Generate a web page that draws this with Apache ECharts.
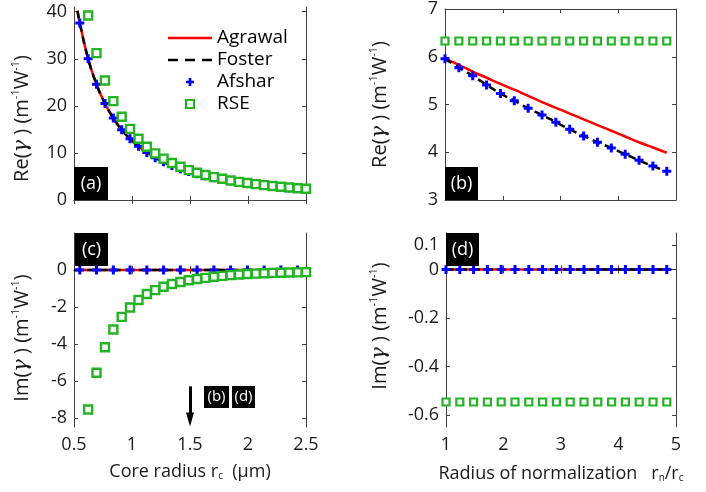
<!DOCTYPE html>
<html>
<head>
<meta charset="utf-8">
<script src="https://cdn.jsdelivr.net/npm/echarts@6/dist/echarts.min.js"></script>
<style>
html,body{margin:0;padding:0;background:#fff}
#main{width:706px;height:492px}
</style>
</head>
<body>
<div id="main"></div>
<script>
// core radius rc (um), panels (a) and (c)
var rc = [0.55, 0.622, 0.694, 0.767, 0.839, 0.911, 0.983, 1.056, 1.128, 1.2, 1.272, 1.344, 1.417, 1.489,
  1.561, 1.633, 1.706, 1.778, 1.85, 1.922, 1.994, 2.067, 2.139, 2.211, 2.283, 2.356, 2.428, 2.5];
var rcLine = [0.53, 0.55, 0.622, 0.694, 0.767, 0.839, 0.911, 0.983, 1.056, 1.128, 1.2, 1.272, 1.344, 1.417, 1.489,
  1.561, 1.633, 1.706, 1.778, 1.85, 1.922, 1.994, 2.067, 2.139, 2.211, 2.283, 2.356, 2.428, 2.5];
var rcRse = [0.622, 0.694, 0.767, 0.839, 0.911, 0.983, 1.056, 1.128, 1.2, 1.272, 1.344, 1.417, 1.489,
  1.561, 1.633, 1.706, 1.778, 1.85, 1.922, 1.994, 2.067, 2.139, 2.211, 2.283, 2.356, 2.428, 2.5];
var rcSparse = [0.55, 0.694, 0.839, 0.983, 1.128, 1.272, 1.417, 1.561, 1.706, 1.85, 1.994, 2.139, 2.283, 2.428];
var rcEnds = [0.5, 2.5];

// (a) Re(gamma)
var agrawalReA = [40.2, 37.6, 30.0, 24.6, 20.5, 17.4, 14.9, 13.0, 11.4, 10.1, 9.0, 8.1, 7.33, 6.65, 6.08,
  5.57, 5.13, 4.74, 4.39, 4.08, 3.81, 3.56, 3.34, 3.13, 2.95, 2.78, 2.62, 2.48, 2.35];
var fosterReA = [40.2, 37.6, 30.0, 24.6, 20.5, 17.4, 14.9, 13.0, 11.4, 10.1, 9.0, 8.1, 7.33, 6.65, 6.08,
  5.57, 5.13, 4.74, 4.39, 4.08, 3.81, 3.56, 3.34, 3.13, 2.95, 2.78, 2.62, 2.48, 2.35];
var afsharReA = [37.6, 30.0, 24.6, 20.5, 17.4, 14.9, 13.0, 11.4, 10.1, 9.0, 8.1, 7.33, 6.65, 6.08,
  5.57, 5.13, 4.74, 4.39, 4.08, 3.81, 3.56, 3.34, 3.13, 2.95, 2.78, 2.62, 2.48, 2.35];
var rseReA = [39.2, 31.2, 25.4, 21.0, 17.7, 15.1, 13.0, 11.3, 9.9, 8.8, 7.85, 7.05, 6.35, 5.8, 5.3,
  4.85, 4.5, 4.15, 3.85, 3.6, 3.38, 3.17, 2.98, 2.8, 2.65, 2.5, 2.38];

// (c) Im(gamma)
var agrawalImC = [0, 0];
var fosterImC = [0, 0];
var afsharImC = [0, 0, 0, 0, 0, 0, 0, 0, 0, 0, 0, 0, 0, 0];
var rseImC = [-7.55, -5.56, -4.18, -3.22, -2.54, -2.03, -1.63, -1.30, -1.09, -0.91, -0.76, -0.65, -0.56,
  -0.49, -0.43, -0.37, -0.32, -0.28, -0.25, -0.22, -0.2, -0.18, -0.16, -0.15, -0.14, -0.13, -0.12];

// radius of normalization rn/rc, panels (b) and (d)
var rn = [1, 1.24, 1.48, 1.72, 1.96, 2.2, 2.44, 2.68, 2.92, 3.16, 3.4, 3.64, 3.88, 4.12, 4.36, 4.6, 4.84];
var agrawalReB = [5.96, 5.83, 5.69, 5.56, 5.43, 5.31, 5.18, 5.05, 4.93, 4.81, 4.69, 4.57, 4.45, 4.33, 4.21, 4.10, 3.99];
var fosterReB = [5.96, 5.77, 5.60, 5.41, 5.23, 5.08, 4.92, 4.78, 4.63, 4.48, 4.34, 4.21, 4.09, 3.96, 3.83, 3.71, 3.60];
var afsharReB = [5.96, 5.77, 5.60, 5.41, 5.23, 5.08, 4.92, 4.78, 4.63, 4.48, 4.34, 4.21, 4.09, 3.96, 3.83, 3.71, 3.60];
var rseReB = [6.33, 6.33, 6.33, 6.33, 6.33, 6.33, 6.33, 6.33, 6.33, 6.33, 6.33, 6.33, 6.33, 6.33, 6.33, 6.33, 6.33];

var agrawalImD = [0, 0, 0, 0, 0, 0, 0, 0, 0, 0, 0, 0, 0, 0, 0, 0, 0];
var fosterImD = [0, 0, 0, 0, 0, 0, 0, 0, 0, 0, 0, 0, 0, 0, 0, 0, 0];
var afsharImD = [0, 0, 0, 0, 0, 0, 0, 0, 0, 0, 0, 0, 0, 0, 0, 0, 0];
var rseImD = [-0.547, -0.547, -0.547, -0.547, -0.547, -0.547, -0.547, -0.547, -0.547, -0.547, -0.547, -0.547,
  -0.547, -0.547, -0.547, -0.547, -0.547];

var ticksA = [0, 10, 20, 30, 40];
var ticksC = [-8, -6, -4, -2, 0];
var ticksD = [-0.6, -0.4, -0.2, 0, 0.1];

var FONT = 'Open Sans';
var TXT = '#1a1a1a';
var RED = '#ff0000', BLUE = '#0000ff', GREEN = '#22b422';
var PLUS = 'path://M3,0H6V3H9V6H6V9H3V6H0V3H3Z';

function pairs(xs, ys) {
  return xs.map(function (x, i) { return [x, ys[i]]; });
}

var grids = [
  {left: 74, top: 7, width: 232, height: 193},
  {left: 445, top: 8, width: 231, height: 192},
  {left: 74, top: 233, width: 232, height: 194},
  {left: 446, top: 233, width: 230, height: 194}
];

var yName = function (p) {
  return '{n|' + p + '(}{g|γ}{n| ) (m}{s|-1}{n|W}{s|-1}{n|)}';
};
var nameRich = {
  n: {fontSize: 20, fontFamily: FONT, color: TXT, lineHeight: 24},
  g: {fontSize: 21, fontFamily: 'DejaVu Serif', fontStyle: 'italic', color: TXT, lineHeight: 24},
  s: {fontSize: 11, fontFamily: FONT, color: TXT, verticalAlign: 'top', lineHeight: 12},
  b: {fontSize: 10, fontFamily: FONT, color: TXT, verticalAlign: 'bottom', lineHeight: 10}
};

function xAx(gi, min, max, interval, showLabel, name, gap) {
  var base = {
    gridIndex: gi, type: 'value', min: min, max: max, interval: interval,
    axisLine: {lineStyle: {color: '#404040', width: 1}},
    axisTick: {inside: true, length: 4, lineStyle: {color: '#404040'}},
    splitLine: {show: false}
  };
  var bottom = Object.assign({}, base, {
    position: 'bottom',
    axisLabel: {show: showLabel, fontSize: 18, fontFamily: FONT, color: TXT, margin: 9},
    name: name || '', nameLocation: 'middle', nameGap: gap || 30,
    nameTextStyle: {fontSize: 18, fontFamily: FONT, color: TXT, rich: nameRich}
  });
  var top = Object.assign({}, base, {position: 'top', axisLabel: {show: false}});
  return [bottom, top];
}

function yAx(gi, min, max, interval, ticks, name, gap, shift) {
  var tickCfg = {inside: true, length: 4, lineStyle: {color: '#404040'}};
  if (ticks) tickCfg.customValues = ticks;
  var labelCfg = {fontSize: 18, fontFamily: FONT, color: TXT, margin: 7};
  if (ticks) labelCfg.customValues = ticks;
  var base = {
    gridIndex: gi, type: 'value', min: min, max: max, interval: interval,
    axisLine: {show: true, lineStyle: {color: '#404040', width: 1}},
    axisTick: tickCfg,
    splitLine: {show: false}
  };
  var left = Object.assign({}, base, {
    position: 'left', axisLabel: labelCfg,
    name: name, nameLocation: 'middle', nameGap: gap,
    nameTextStyle: {rich: nameRich, padding: shift > 0 ? [0, shift, 0, 0] : [0, 0, 0, -shift]}
  });
  var right = Object.assign({}, base, {position: 'right', axisLabel: {show: false}});
  return [left, right];
}

var xAxes = [].concat(
  xAx(0, 0.5, 2.5, 0.5, false),
  xAx(1, 1, 5, 1, false),
  xAx(2, 0.5, 2.5, 0.5, true, 'Core radius r{b|c}  (μm)', 36),
  xAx(3, 1, 5, 1, true, 'Radius of normalization   r{b|n}/r{b|c}', 38)
);
var yAxes = [].concat(
  yAx(0, 0, 41, 10, ticksA, yName('Re'), 40, 30),
  yAx(1, 3, 7, 1, null, yName('Re'), 53, 0),
  yAx(2, -8.5, 2, 2, ticksC, yName('Im'), 40, 16),
  yAx(3, -0.65, 0.15, 0.05, ticksD, yName('Im'), 54, -8)
);

function lineS(name, gi, data, color, dashed) {
  return {
    name: name, type: 'line', xAxisIndex: gi * 2, yAxisIndex: gi * 2,
    data: data, symbol: 'none', showSymbol: false, smooth: true, z: dashed ? 3 : 2,
    lineStyle: {color: color, width: 2.5, type: dashed ? [8, 5] : 'solid'},
    itemStyle: {color: color}
  };
}
function plusS(gi, data, size) {
  return {
    name: 'Afshar', type: 'scatter', xAxisIndex: gi * 2, yAxisIndex: gi * 2,
    data: data, symbol: PLUS, symbolSize: size, z: 4,
    itemStyle: {color: BLUE, opacity: 1}
  };
}
function rseS(gi, data, size, bw) {
  return {
    name: 'RSE', type: 'scatter', xAxisIndex: gi * 2, yAxisIndex: gi * 2,
    data: data, symbol: 'rect', symbolSize: size, z: 5,
    itemStyle: {color: '#ffffff', borderColor: GREEN, borderWidth: bw, opacity: 1}
  };
}

var arrowSeries = plusS(2, pairs(rcSparse, afsharImC), 9);
arrowSeries.markLine = {
  silent: true, animation: false,
  symbol: ['none', 'triangle'], symbolSize: [8, 14],
  label: {show: false},
  lineStyle: {color: '#000', width: 3, type: 'solid'},
  data: [[{coord: [1.5, -6.3]}, {coord: [1.5, -8.1]}]]
};

var series = [
  lineS('Agrawal', 0, pairs(rcLine, agrawalReA), RED, false),
  lineS('Foster', 0, pairs(rcLine, fosterReA), '#000', true),
  plusS(0, pairs(rc, afsharReA), 9),
  rseS(0, pairs(rcRse, rseReA), 8, 2.4),

  lineS('Agrawal', 1, pairs(rn, agrawalReB), RED, false),
  lineS('Foster', 1, pairs(rn, fosterReB), '#000', true),
  plusS(1, pairs(rn, afsharReB), 9),
  rseS(1, pairs(rn, rseReB), 7, 2.2),

  lineS('Agrawal', 2, pairs(rcEnds, agrawalImC), RED, false),
  lineS('Foster', 2, pairs(rcEnds, fosterImC), '#000', true),
  arrowSeries,
  rseS(2, pairs(rcRse, rseImC), 8, 2.4),

  lineS('Agrawal', 3, pairs(rn, agrawalImD), RED, false),
  lineS('Foster', 3, pairs(rn, fosterImD), '#000', true),
  plusS(3, pairs(rn, afsharImD), 9),
  rseS(3, pairs(rn, rseImD), 7, 2.2)
];

function tag(x, y, w, h, t, fs) {
  return [
    {type: 'rect', shape: {x: x, y: y, width: w, height: h}, style: {fill: '#000'}, z: 100},
    {type: 'text', x: x + w / 2, y: y + h / 2, z: 101,
      style: {text: t, fill: '#fff', fontSize: fs, fontFamily: FONT, align: 'center', verticalAlign: 'middle'}}
  ];
}

var myChart = echarts.init(document.getElementById('main'));
var option = {
  animation: false,
  backgroundColor: '#fff',
  grid: grids,
  xAxis: xAxes,
  yAxis: yAxes,
  legend: {
    data: [
      {name: 'Agrawal', icon: 'path://M0,0H44V2.5H0Z', itemStyle: {color: RED, borderWidth: 0}},
      {name: 'Foster', icon: 'path://M0,0H10V2.5H0Z M17,0H27V2.5H17Z M34,0H44V2.5H34Z', itemStyle: {color: '#000', borderWidth: 0}},
      {name: 'Afshar', icon: PLUS, itemStyle: {color: BLUE, borderWidth: 0}},
      {name: 'RSE', icon: 'path://M0,0H8V8H0Z', itemStyle: {color: '#fff', borderColor: GREEN, borderWidth: 2.2}}
    ],
    orient: 'vertical', left: 163, top: 23,
    itemWidth: 44, itemHeight: 8, itemGap: 2,
    textStyle: {fontSize: 19, fontFamily: FONT, color: '#000', lineHeight: 20}
  },
  graphic: [].concat(
    tag(74, 167, 34, 33, '(a)', 18),
    tag(445, 167, 33, 33, '(b)', 18),
    tag(75, 233, 33, 33, '(c)', 18),
    tag(446, 233, 33, 33, '(d)', 18),
    tag(204, 386, 25, 22, '(b)', 15),
    tag(232, 386, 23, 22, '(d)', 15)
  ),
  series: series
};
myChart.setOption(option);
</script>
</body>
</html>
